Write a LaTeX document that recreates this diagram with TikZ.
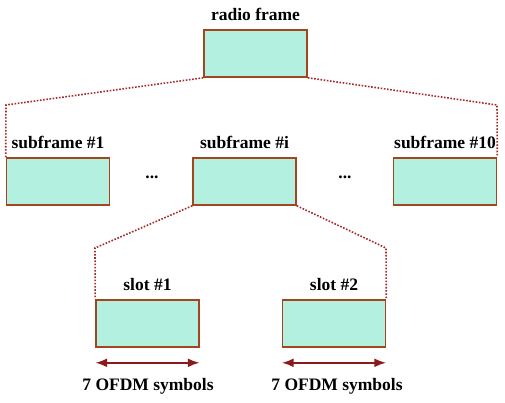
\documentclass[tikz,border=0pt]{standalone}
\usepackage{fontspec}
\setmainfont{Liberation Serif}
\usetikzlibrary{arrows.meta,positioning}
\definecolor{mint}{HTML}{B3F0E0}
\definecolor{rust}{HTML}{A3461E}
\definecolor{dotred}{HTML}{A52A2A}
\definecolor{arrred}{HTML}{8B1A1A}
\tikzset{
  framebox/.style={rectangle, draw=rust, line width=1.6pt, fill=mint, minimum width=103pt, minimum height=47pt, inner sep=0pt},
  lbl/.style={font=\fontsize{17.5}{20}\selectfont\bfseries, inner sep=0pt},
  zoomline/.style={draw=dotred, line width=1.6pt, dash pattern=on 1.6pt off 1.6pt},
  span/.style={{Latex[length=12pt,width=9pt]}-{Latex[length=12pt,width=9pt]}, line width=2.2pt, draw=arrred}
}
\begin{document}
\begin{tikzpicture}[x=1pt,y=-1pt]
\useasboundingbox (0,0) rectangle (505,403);
\node[framebox] (rf) at (255.5,53.5) {};
\node[framebox] (sf1) at (58,181.5) {};
\node[framebox] (sfi) at (244.5,181.5) {};
\node[framebox] (sf10) at (445,181.5) {};
\node[framebox] (sl1) at (147.5,323.5) {};
\node[framebox] (sl2) at (334,323.5) {};
\node[lbl, above=8pt of rf] (rflbl) {radio frame};
\node[lbl, above=8pt of sf1] (sf1lbl) {subframe \#1};
\node[lbl, above=8pt of sfi] (sfilbl) {subframe \#i};
\node[lbl, above=8pt of sf10] (sf10lbl) {subframe \#10};
\node[lbl, above=8pt of sl1] (sl1lbl) {slot \#1};
\node[lbl, above=8pt of sl2] (sl2lbl) {slot \#2};
\node[lbl] (dots1) at (152,177) {...};
\node[lbl] (dots2) at (345,177) {...};
\coordinate (kl) at (6,105);
\coordinate (kr) at (497,105);
\coordinate (ml) at (95,248);
\coordinate (mr) at (386,248);
\draw[zoomline] (rf.south west) -- (kl) -- (sf1.north west);
\draw[zoomline] (rf.south east) -- (kr) -- (sf10.north east);
\draw[zoomline] (sfi.south west) -- (ml) -- (sl1.north west);
\draw[zoomline] (sfi.south east) -- (mr) -- (sl2.north east);
\coordinate (a1l) at ([yshift=-15pt]sl1.south west);
\coordinate (a1r) at ([yshift=-15pt]sl1.south east);
\coordinate (a2l) at ([yshift=-15pt]sl2.south west);
\coordinate (a2r) at ([yshift=-15pt]sl2.south east);
\draw[span] (a1l) -- (a1r);
\draw[span] (a2l) -- (a2r);
\node[lbl] (sym1) at (148,386) {7 OFDM symbols};
\node[lbl] (sym2) at (337,386) {7 OFDM symbols};
\end{tikzpicture}
\end{document}
